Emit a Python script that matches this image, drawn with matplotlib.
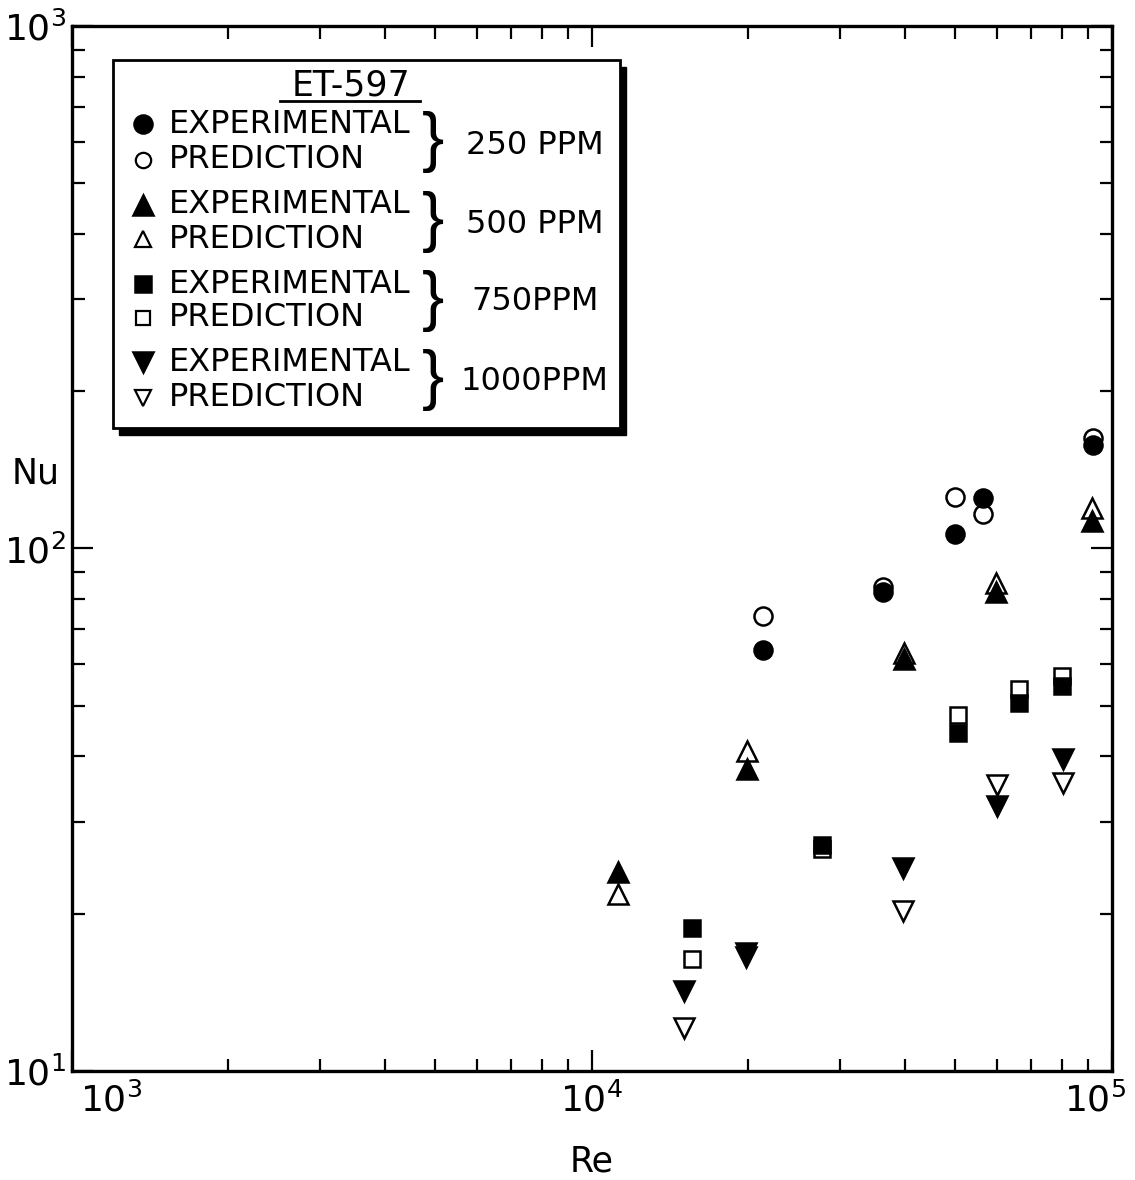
import numpy as np
import matplotlib.pyplot as plt
from matplotlib.patches import Rectangle
from matplotlib.transforms import ScaledTranslation

# values (log-log)
re_250 = [21320, 36270, 49890, 56480, 91940]
nu_250_exp = [64.0, 82.4, 106.8, 125.0, 157.5]
nu_250_pred = [74.1, 84.3, 125.2, 116.2, 162.4]

re_500 = [11220, 19860, 39810, 59840, 91520]
nu_500_exp = [24.0, 37.9, 61.5, 82.4, 113.1]
nu_500_pred = [21.8, 41.0, 63.2, 85.7, 119.3]

re_750 = [15570, 27700, 50560, 66240, 80130]
nu_750_exp = [18.8, 27.1, 44.4, 50.5, 54.6]
nu_750_pred = [16.4, 26.6, 47.9, 53.9, 56.9]

re_1000 = [15030, 19780, 39630, 60100, 80500]
nu_1000_exp = [14.2, 16.8, 24.5, 32.2, 39.6]
nu_1000_pred = [12.1, 16.5, 20.2, 35.2, 35.5]

series = [
    (re_250, nu_250_exp, nu_250_pred, 'o', 13, '250 PPM'),
    (re_500, nu_500_exp, nu_500_pred, '^', 14, '500 PPM'),
    (re_750, nu_750_exp, nu_750_pred, 's', 12, '750PPM'),
    (re_1000, nu_1000_exp, nu_1000_pred, 'v', 14, '1000PPM'),
]

plt.rcParams['font.family'] = ['DejaVu Sans']

fig = plt.figure(figsize=(11.35, 11.8), dpi=100)
ax = fig.add_axes([0.0634, 0.0924, 0.9163, 0.8856])

for re, exp, pred, m, ms, lab in series:
    # open markers underneath, filled on top
    ax.plot(re, pred, m, ms=ms, mfc='white', mec='black', mew=1.8, ls='none', zorder=3)
    ax.plot(re, exp, m, ms=ms, mfc='black', mec='black', mew=1.8, ls='none', zorder=4)

ax.set_xscale('log')
ax.set_yscale('log')
ax.set_xlim(1e3, 1e5)
ax.set_ylim(10, 1000)

for s in ax.spines.values():
    s.set_linewidth(2.4)

ax.tick_params(which='both', direction='in', top=True, right=True, width=1.6)
ax.tick_params(which='major', length=15, labelsize=26)
ax.tick_params(axis='y', which='major', pad=4)
ax.tick_params(axis='x', which='major', pad=8)
ax.tick_params(which='minor', length=9)

ax.set_xticks([1e3, 1e4, 1e5])
xlbls = ax.get_xticklabels()
xlbls[0].set_horizontalalignment('left')
xlbls[0].set_transform(xlbls[0].get_transform() + ScaledTranslation(0.08, 0, fig.dpi_scale_trans))
xlbls[-1].set_horizontalalignment('right')
xlbls[-1].set_transform(xlbls[-1].get_transform() + ScaledTranslation(0.14, 0, fig.dpi_scale_trans))

ax.set_xlabel('Re', fontsize=25)
ax.xaxis.set_label_coords(0.5, -0.07)
ax.set_ylabel('Nu', fontsize=25, rotation=0)
ax.yaxis.set_label_coords(-0.035, 0.555)

# legend box drawn by hand (shadow + box)
bx0, by0, bw, bh = 0.039, 0.615, 0.488, 0.352
ax.add_patch(Rectangle((bx0 + 0.006, by0 - 0.006), bw, bh, transform=ax.transAxes,
                       facecolor='black', edgecolor='black', zorder=5, clip_on=False))
ax.add_patch(Rectangle((bx0, by0), bw, bh, transform=ax.transAxes,
                       facecolor='white', edgecolor='black', lw=2.0, zorder=6, clip_on=False))

ax.text(0.268, 0.943, 'ET-597', transform=ax.transAxes, fontsize=25,
        ha='center', va='center', zorder=7)
ax.plot([0.2, 0.335], [0.928, 0.928], color='black', lw=2, transform=ax.transAxes, zorder=7)

row_y = [0.906, 0.872, 0.829, 0.796, 0.753, 0.721, 0.678, 0.644]
ppm_y = [0.886, 0.810, 0.736, 0.660]
for i, (re, exp, pred, m, ms, lab) in enumerate(series):
    y1, y2 = row_y[2 * i], row_y[2 * i + 1]
    ax.plot([0.0683], [y1], m, ms=ms, mfc='black', mec='black', mew=1.8,
            transform=ax.transAxes, zorder=7, clip_on=False)
    ax.plot([0.0683], [y2], m, ms=ms * 0.85, mfc='white', mec='black', mew=1.6,
            transform=ax.transAxes, zorder=7, clip_on=False)
    ax.text(0.093, y1, 'EXPERIMENTAL', transform=ax.transAxes, fontsize=23,
            ha='left', va='center', zorder=7)
    ax.text(0.093, y2, 'PREDICTION', transform=ax.transAxes, fontsize=23,
            ha='left', va='center', zorder=7)
    ym = (y1 + y2) / 2
    ax.text(0.347, ym, '}', transform=ax.transAxes, fontsize=48,
            family='Liberation Sans', ha='center', va='center', zorder=7)
    ax.text(0.445, ppm_y[i], lab, transform=ax.transAxes, fontsize=23,
            ha='center', va='center', zorder=7)

fig.savefig('out.png', dpi=100)
